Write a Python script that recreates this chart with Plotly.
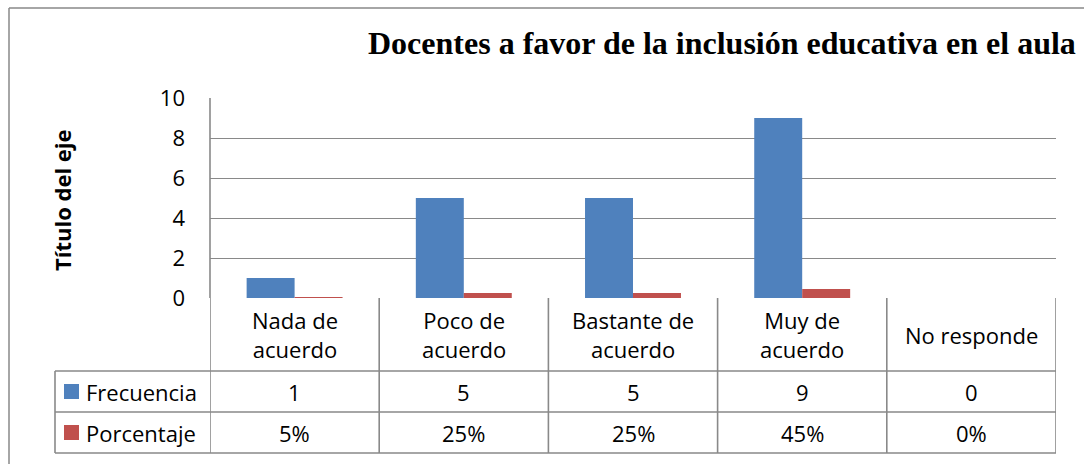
import plotly.graph_objects as go

# ---------------- data ----------------
categories = ["Nada de acuerdo", "Poco de acuerdo", "Bastante de acuerdo",
              "Muy de acuerdo", "No responde"]
category_labels = ["Nada de<br>acuerdo", "Poco de<br>acuerdo", "Bastante de<br>acuerdo",
                   "Muy de<br>acuerdo", "No responde"]
frecuencia = [1, 5, 5, 9, 0]
porcentaje = [0.05, 0.25, 0.25, 0.45, 0.0]
series_names = ["Frecuencia", "Porcentaje"]
y_ticks = [0, 2, 4, 6, 8, 10]
title_text = "Docentes a favor de la inclusión educativa en el aula"
y_title = "Título del eje"

# ---------------- layout geometry ----------------
W, H = 1084, 464
L, R, T, B = 210, 1056, 98, 298          # plot area in pixels
ROW_LINES = [371, 412, 453]              # table horizontal lines (px)
ROW_CENTERS = [334.5, 391.5, 432.5]      # category row, Frecuencia row, Porcentaje row
LABEL_COL_LEFT = 55

COLORS = ["#4F81BD", "#C0504D"]
GRID = "#898989"
FONT = "Open Sans"


def px_x(px):
    return (px - L) / (R - L)


def px_y(py):
    return (B - py) / (B - T)


fig = go.Figure()
for name, vals, col in zip(series_names, [frecuencia, porcentaje], COLORS):
    fig.add_trace(go.Bar(x=categories, y=vals, name=name,
                         marker=dict(color=col, line=dict(width=0))))

shapes = []
n = len(categories)
line_style = dict(color=GRID, width=1.6)

# horizontal table lines
for py in ROW_LINES:
    shapes.append(dict(type="line", xref="paper", yref="paper",
                       x0=px_x(LABEL_COL_LEFT), x1=1, y0=px_y(py), y1=px_y(py), line=line_style))
# vertical lines between categories (through data axis)
for i in range(n + 1):
    shapes.append(dict(type="line", xref="x", yref="paper",
                       x0=i - 0.5, x1=i - 0.5, y0=0, y1=px_y(ROW_LINES[-1]), line=line_style))
# left label column line
shapes.append(dict(type="line", xref="paper", yref="paper",
                   x0=px_x(LABEL_COL_LEFT), x1=px_x(LABEL_COL_LEFT),
                   y0=px_y(ROW_LINES[0]), y1=px_y(ROW_LINES[-1]), line=line_style))
# y axis line
shapes.append(dict(type="line", xref="paper", yref="paper",
                   x0=0, x1=0, y0=0, y1=1, line=line_style))
# outer chart border (left + top)
shapes.append(dict(type="line", xref="paper", yref="paper",
                   x0=px_x(9), x1=px_x(9), y0=px_y(8), y1=px_y(470),
                   line=dict(color=GRID, width=1.5)))
shapes.append(dict(type="line", xref="paper", yref="paper",
                   x0=px_x(9), x1=px_x(1090), y0=px_y(8), y1=px_y(8),
                   line=dict(color=GRID, width=1.5)))
# legend keys in the data table
for k, col in enumerate(COLORS):
    cy = ROW_CENTERS[k + 1]
    shapes.append(dict(type="rect", xref="paper", yref="paper",
                       x0=px_x(64), x1=px_x(79), y0=px_y(cy - 7.5), y1=px_y(cy + 7.5),
                       fillcolor=col, line=dict(width=0)))

annotations = []
txt_font = dict(family=FONT, size=22, color="#000000")
for i, lab in enumerate(category_labels):
    annotations.append(dict(x=categories[i], xref="x", y=px_y(ROW_CENTERS[0]), yref="paper",
                            text=lab, showarrow=False, font=txt_font,
                            xanchor="center", yanchor="middle"))
    annotations.append(dict(x=categories[i], xref="x", y=px_y(ROW_CENTERS[1]), yref="paper",
                            text=str(frecuencia[i]), showarrow=False, font=txt_font,
                            xanchor="center", yanchor="middle"))
    annotations.append(dict(x=categories[i], xref="x", y=px_y(ROW_CENTERS[2]), yref="paper",
                            text=f"{round(porcentaje[i] * 100)}%", showarrow=False, font=txt_font,
                            xanchor="center", yanchor="middle"))
for k, name in enumerate(series_names):
    annotations.append(dict(x=px_x(84), xref="paper", y=px_y(ROW_CENTERS[k + 1]), yref="paper",
                            text=name, showarrow=False, font=txt_font,
                            xanchor="left", yanchor="middle"))
# y axis title
annotations.append(dict(x=px_x(62), xref="paper", y=px_y(200), yref="paper",
                        text=f"<b>{y_title}</b>", textangle=-90, showarrow=False,
                        font=dict(family=FONT, size=22, color="#000000"),
                        xanchor="center", yanchor="middle"))
# chart title
annotations.append(dict(x=px_x(722), xref="paper", y=px_y(43), yref="paper",
                        text=f"<b>{title_text}</b>", showarrow=False,
                        font=dict(family="Liberation Serif", size=32, color="#000000"),
                        xanchor="center", yanchor="middle"))

fig.update_layout(
    width=W, height=H,
    margin=dict(l=L, r=W - R, t=T, b=H - B, pad=0),
    paper_bgcolor="white", plot_bgcolor="white",
    barmode="group", bargap=0.433, bargroupgap=0,
    showlegend=False,
    shapes=shapes, annotations=annotations,
    font=dict(family=FONT, color="#000000"),
)
fig.update_xaxes(range=[-0.5, n - 0.5], showticklabels=False, ticks="",
                 showgrid=False, zeroline=False, showline=False)
fig.update_yaxes(range=[0, 10], tickvals=y_ticks, showgrid=True, gridcolor=GRID, gridwidth=1.3,
                 zeroline=False, showline=False, ticks="", ticklabelstandoff=24,
                 tickfont=dict(family=FONT, size=22, color="#000000"))

fig.write_html("out.html",
               config={"displayModeBar": False},
               post_script="document.body.style.margin='0';document.body.style.overflow='hidden';")
